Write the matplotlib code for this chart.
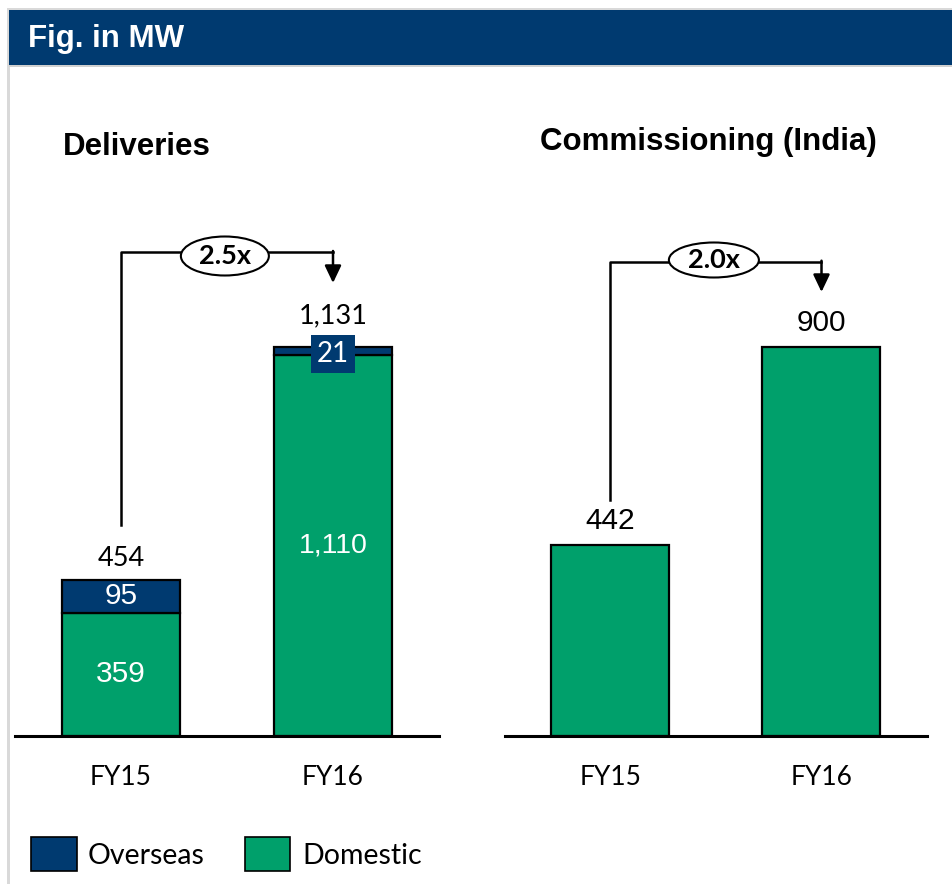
import matplotlib
matplotlib.use("Agg")
import matplotlib.pyplot as plt
from matplotlib.patches import Rectangle, Ellipse

W, H = 953, 884
DPI = 100

# ---------------- data ----------------
years = ["FY15", "FY16"]
domestic = [359, 1110]
overseas = [95, 21]
deliveries_total = [454, 1131]
commissioning = [442, 900]
deliv_growth = "2.5x"
comm_growth = "2.0x"
domestic_labels = ["359", "1,110"]
overseas_labels = ["95", "21"]
total_labels = ["454", "1,131"]
comm_labels = ["442", "900"]

NAVY = "#003A70"
GREEN = "#00A06B"
CAL = ["Lato", "DejaVu Sans"]
ARI = ["Liberation Sans", "DejaVu Sans"]

fig = plt.figure(figsize=(W / DPI, H / DPI), dpi=DPI)
fig.patch.set_facecolor("white")


def fx(px):
    return px / W


def fy(py):
    return 1 - py / H


# frame lines and header
fig.add_artist(Rectangle((fx(8), fy(10)), fx(945), 2 / H, transform=fig.transFigure,
                         color="#D9D9D9", lw=0))
fig.add_artist(Rectangle((fx(7), 0), 3 / W, fy(8), transform=fig.transFigure,
                         color="#D9D9D9", lw=0))
fig.add_artist(Rectangle((fx(9), fy(65)), fx(944), 55 / H, transform=fig.transFigure,
                         color=NAVY, lw=0))
fig.add_artist(Rectangle((fx(9), fy(67)), fx(944), 2 / H, transform=fig.transFigure,
                         color="#D0D0D0", lw=0))
fig.text(fx(28), fy(39), "Fig. in MW", color="white", fontsize=22.5, fontweight="bold",
         family=ARI, va="center", ha="left")

BASE = 736
ARROW = dict(arrowstyle="-|>,head_width=0.5,head_length=1.05",
             color="black", lw=1.8, shrinkA=0, shrinkB=0)


def make_ax(x0, x1, top_px, units_per_px):
    ax = fig.add_axes([fx(x0), fy(BASE), (x1 - x0) / W, (BASE - top_px) / H])
    ax.set_xlim(-0.5, 1.5)
    ax.set_ylim(0, (BASE - top_px) * units_per_px)
    for s in ["left", "right", "top"]:
        ax.spines[s].set_visible(False)
    ax.spines["bottom"].set_linewidth(2.2)
    ax.set_yticks([])
    ax.set_xticks(range(len(years)))
    ax.set_xticklabels(years, family=CAL, fontsize=19)
    ax.tick_params(axis="x", length=0, pad=21)
    ax.patch.set_alpha(0)
    return ax


# ---------------- Deliveries ----------------
s1 = 454 / (736 - 580)
ax1 = make_ax(15, 439, 180, s1)
bw = 118 / 212
x = list(range(len(years)))
ax1.bar(x, domestic, width=bw, color=GREEN, edgecolor="black", lw=1.6, zorder=2)
ax1.bar(x, overseas, width=bw, bottom=domestic, color=NAVY, edgecolor="black", lw=1.6, zorder=2)

ax1.text(0, domestic[0] / 2, domestic_labels[0], ha="center", va="center", color="white",
         fontsize=21.5, family=ARI, zorder=4)
ax1.text(1, domestic[1] / 2, domestic_labels[1], ha="center", va="center", color="white",
         fontsize=20.5, family=ARI, zorder=4)
ax1.text(0, domestic[0] + overseas[0] / 2, overseas_labels[0], ha="center", va="center",
         color="white", fontsize=21.5, family=ARI, zorder=4)
ax1.text(1, domestic[1] + overseas[1] / 2 - 3 * s1, overseas_labels[1], ha="center",
         va="center", color="white", fontsize=20, family=CAL, zorder=4,
         bbox=dict(boxstyle="square,pad=0.22", fc=NAVY, ec="none"))
ax1.text(0, deliveries_total[0] + 9 * s1, total_labels[0], ha="center", va="bottom",
         fontsize=19.5, family=CAL, color="black")
ax1.text(1, deliveries_total[1] + 19 * s1, total_labels[1], ha="center", va="bottom",
         fontsize=19.5, family=CAL, color="black")

# bracket
yb1 = (BASE - 252) * s1
ax1.plot([0, 0, 1.0], [(BASE - 525) * s1, yb1, yb1], color="black", lw=1.8,
         clip_on=False, zorder=1)
ax1.annotate("", xy=(1.0, (BASE - 283) * s1), xytext=(1.0, yb1 + 3),
             arrowprops=ARROW, annotation_clip=False)
ell = Ellipse((0.49, (BASE - 256) * s1), 88 / 212, 39 * s1, fc="white", ec="black", lw=1.5,
              clip_on=False, zorder=3)
ax1.add_patch(ell)
ax1.text(0.49, (BASE - 256) * s1, deliv_growth, ha="center", va="center", fontsize=19.5,
         fontweight="bold", family=CAL, zorder=4)

# ---------------- Commissioning ----------------
s2 = 442 / (736 - 545)
ax2 = make_ax(505, 927, 180, s2)
bw2 = 118 / 211
ax2.bar(x, commissioning, width=bw2, color=GREEN, edgecolor="black", lw=1.6, zorder=2)
for i, t in enumerate(comm_labels):
    ax2.text(i, commissioning[i] + 10 * s2, t, ha="center", va="bottom", fontsize=21.5,
             family=ARI, color="black")

yb2 = (BASE - 262) * s2
ax2.plot([0, 0, 1.0], [(BASE - 500) * s2, yb2, yb2], color="black", lw=1.8,
         clip_on=False, zorder=1)
ax2.annotate("", xy=(1.0, (BASE - 292) * s2), xytext=(1.0, yb2 + 3),
             arrowprops=ARROW, annotation_clip=False)
ell2 = Ellipse((0.49, (BASE - 260) * s2), 90 / 211, 35 * s2, fc="white", ec="black", lw=1.5,
               clip_on=False, zorder=3)
ax2.add_patch(ell2)
ax2.text(0.49, (BASE - 260) * s2, comm_growth, ha="center", va="center", fontsize=19.5,
         fontweight="bold", family=CAL, zorder=4)

# titles
fig.text(fx(63), fy(147), "Deliveries", fontsize=22.5, fontweight="bold", family=ARI,
         ha="left", va="center")
fig.text(fx(708), fy(142), "Commissioning (India)", fontsize=22.5, fontweight="bold",
         family=ARI, ha="center", va="center")

# legend
fig.add_artist(Rectangle((fx(31), fy(871)), 46 / W, 34 / H, transform=fig.transFigure,
                         fc=NAVY, ec="black", lw=1.2))
fig.text(fx(88), fy(856), "Overseas", fontsize=20.5, family=CAL, ha="left", va="center")
fig.add_artist(Rectangle((fx(245), fy(871)), 45 / W, 34 / H, transform=fig.transFigure,
                         fc=GREEN, ec="black", lw=1.2))
fig.text(fx(302), fy(856), "Domestic", fontsize=20.5, family=CAL, ha="left", va="center")

fig.savefig("out.png", dpi=DPI)
